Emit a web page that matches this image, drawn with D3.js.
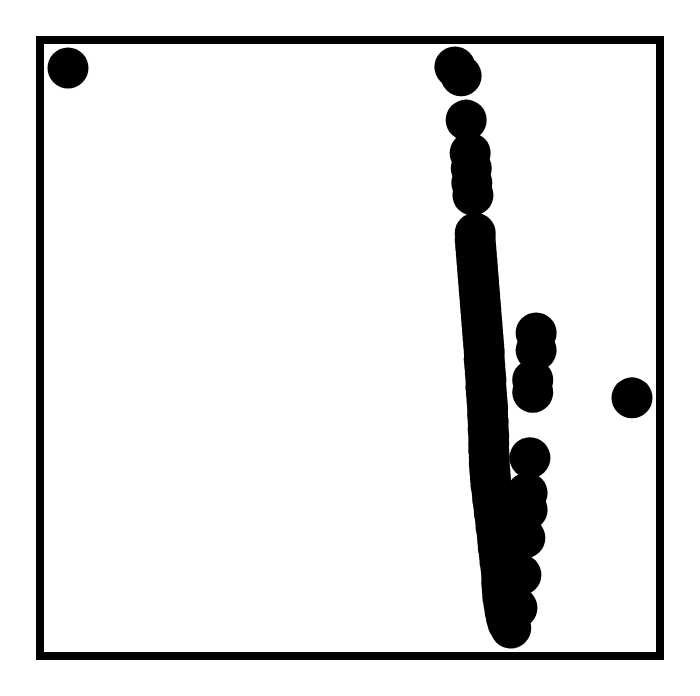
<!DOCTYPE html>
<html>
<head>
<meta charset="utf-8">
<script src="https://cdn.jsdelivr.net/npm/d3@7"></script>
<style>
  html, body { margin: 0; padding: 0; background: #fff; }
  svg { display: block; }
</style>
</head>
<body>
<svg id="chart" width="700" height="696"></svg>
<script>
// Scatter data (arbitrary units)
// Isolated / upper points
const xUpper = [0.0, 68.6, 69.7, 70.6, 71.3, 71.5, 71.6, 71.8];
const yUpper = [100.0, 100.2, 98.6, 90.7, 84.8, 82.1, 79.5, 77.3];

// Dense main band
const xBand = [
  72.2, 72.2, 72.3, 72.4, 72.5, 72.6, 72.7, 72.8, 72.9, 73.0,
  73.1, 73.2, 73.3, 73.4, 73.5, 73.6, 73.7, 73.8, 73.8, 73.9,
  74.0, 74.1, 74.1, 74.2, 74.3, 74.4, 74.4, 74.5, 74.5, 74.6,
  74.6, 74.6, 74.7, 74.7, 74.8, 74.9, 75.0, 75.2, 75.3, 75.5,
  75.6, 75.8, 75.9, 76.1, 76.2, 76.3, 76.5, 76.6, 76.8, 76.9,
  76.9, 77.0, 77.1, 77.3, 77.5, 77.7, 78.0, 78.5
];
const yBand = [
  70.5, 69.3, 68.0, 66.8, 65.5, 64.3, 63.0, 61.8, 60.5, 59.3,
  58.0, 56.8, 55.5, 54.3, 53.0, 51.8, 50.5, 49.3, 48.0, 46.8,
  45.5, 44.3, 43.0, 41.8, 40.5, 39.3, 38.0, 36.8, 35.5, 34.3,
  33.0, 31.8, 30.5, 29.3, 28.0, 26.8, 25.5, 24.3, 23.0, 21.8,
  20.5, 19.3, 18.0, 16.8, 15.5, 14.3, 13.0, 11.8, 10.5, 9.3,
  8.0, 6.8, 5.5, 4.3, 3.0, 2.0, 0.9, 0.0
];

// Points to the right of the band
const xRight = [83.0, 83.0, 82.4, 82.4, 100.0, 81.9, 81.4, 81.4, 81.0, 80.3, 79.6];
const yRight = [52.7, 49.6, 44.3, 42.1, 41.1, 30.4, 24.1, 21.1, 16.1, 9.5, 3.6];

const xDomain = [0, 100];
const yDomain = [0, 100];

const svg = d3.select("#chart");
const frame = { left: 40, top: 40, right: 660, bottom: 656 };
const pad = 28;

const x = d3.scaleLinear().domain(xDomain).range([frame.left + pad, frame.right - pad]);
const y = d3.scaleLinear().domain(yDomain).range([frame.bottom - pad, frame.top + pad]);

const toPoints = (xs, ys) => xs.map((v, i) => ({ x: v, y: ys[i] }));
const points = [].concat(
  toPoints(xUpper, yUpper),
  toPoints(xBand, yBand),
  toPoints(xRight, yRight)
);

svg.append("g")
  .selectAll("circle")
  .data(points)
  .join("circle")
  .attr("cx", d => x(d.x))
  .attr("cy", d => y(d.y))
  .attr("r", 20.5)
  .attr("fill", "#000");

svg.append("rect")
  .attr("x", frame.left)
  .attr("y", frame.top)
  .attr("width", frame.right - frame.left)
  .attr("height", frame.bottom - frame.top)
  .attr("fill", "none")
  .attr("stroke", "#000")
  .attr("stroke-width", 8);
</script>
</body>
</html>
